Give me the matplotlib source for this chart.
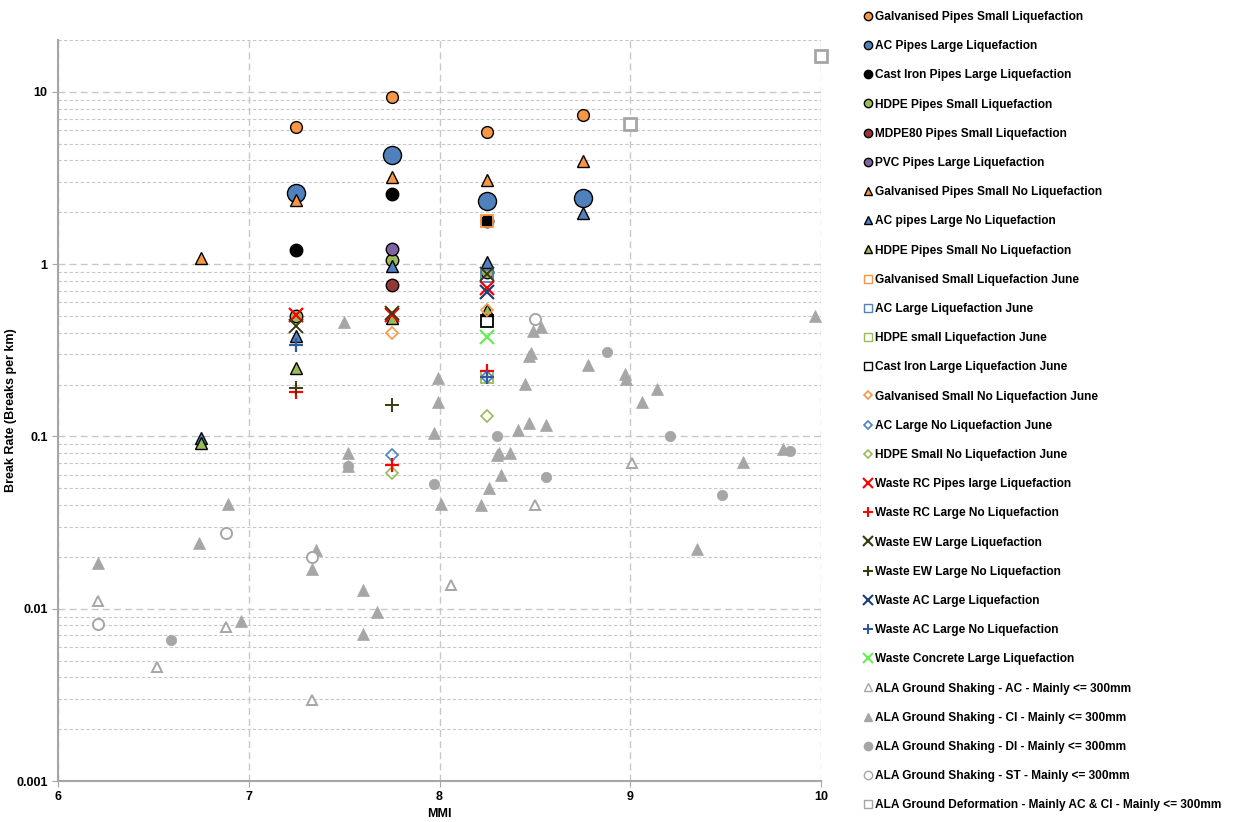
import matplotlib
matplotlib.use("Agg")
import matplotlib.pyplot as plt
from matplotlib.ticker import FixedLocator, FixedFormatter, NullFormatter

plt.rcParams['font.family'] = ['Liberation Sans', 'DejaVu Sans']
plt.rcParams['font.weight'] = 'bold'

# ---------------- data ----------------
galv_small_liq_x = [7.25, 7.75, 8.25, 8.75]
galv_small_liq_y = [6.27, 9.35, 5.86, 7.35]

ac_large_liq_x = [7.25, 7.75, 8.25, 8.75]
ac_large_liq_y = [2.59, 4.31, 2.33, 2.43]

ci_large_liq_x = [7.25, 7.75, 8.25]
ci_large_liq_y = [1.21, 2.56, 1.78]

hdpe_small_liq_x = [7.25, 7.75, 8.25]
hdpe_small_liq_y = [0.50, 1.06, 0.90]

mdpe_small_liq_x = [7.75]
mdpe_small_liq_y = [0.757]

pvc_large_liq_x = [7.75]
pvc_large_liq_y = [1.23]

galv_small_noliq_x = [6.75, 7.25, 7.75, 8.25, 8.75]
galv_small_noliq_y = [1.09, 2.36, 3.21, 3.06, 3.98]

ac_large_noliq_x = [6.75, 7.25, 7.75, 8.25, 8.75]
ac_large_noliq_y = [0.098, 0.383, 0.98, 1.03, 1.99]

hdpe_small_noliq_x = [6.75, 7.25, 7.75, 8.25]
hdpe_small_noliq_y = [0.0916, 0.25, 0.49, 0.54]

galv_liq_june_x = [8.25]
galv_liq_june_y = [1.78]

ac_liq_june_x = [8.25]
ac_liq_june_y = [0.85]

hdpe_liq_june_x = [8.25]
hdpe_liq_june_y = [0.22]

ci_liq_june_x = [8.25]
ci_liq_june_y = [0.469]

galv_noliq_june_x = [7.75, 8.25]
galv_noliq_june_y = [0.40, 0.54]

ac_noliq_june_x = [7.75, 8.25]
ac_noliq_june_y = [0.078, 0.22]

hdpe_noliq_june_x = [7.75, 8.25]
hdpe_noliq_june_y = [0.0614, 0.132]

waste_rc_liq_x = [7.25, 7.75, 8.25]
waste_rc_liq_y = [0.507, 0.51, 0.728]

waste_rc_noliq_x = [7.25, 7.75, 8.25]
waste_rc_noliq_y = [0.181, 0.0684, 0.241]

waste_ew_liq_x = [7.25, 7.75, 8.25]
waste_ew_liq_y = [0.438, 0.52, 0.88]

waste_ew_noliq_x = [7.25, 7.75, 8.25]
waste_ew_noliq_y = [0.191, 0.152, 0.22]

waste_ac_liq_x = [8.25]
waste_ac_liq_y = [0.693]

waste_ac_noliq_x = [7.25, 8.25]
waste_ac_noliq_y = [0.34, 0.22]

waste_conc_liq_x = [8.25]
waste_conc_liq_y = [0.378]

ala_ac_x = [6.21, 6.52, 6.88, 7.33, 8.06, 8.50, 9.01]
ala_ac_y = [0.0111, 0.00459, 0.00784, 0.00295, 0.01375, 0.040, 0.070]

ala_ci_x = [6.21, 6.74, 6.89, 6.96, 7.33, 7.35, 7.50, 7.52, 7.52, 7.60, 7.60,
            7.67, 7.97, 7.99, 7.99, 8.01, 8.22, 8.26, 8.30, 8.31, 8.32, 8.37,
            8.41, 8.45, 8.47, 8.48, 8.49, 8.53, 8.47, 8.56, 8.78, 8.97, 8.98,
            9.06, 9.14, 9.35, 9.59, 9.80, 9.97]
ala_ci_y = [0.0185, 0.0241, 0.0405, 0.0085, 0.017, 0.0219, 0.462, 0.080, 0.067, 0.01285, 0.00713,
            0.0096, 0.1047, 0.219, 0.158, 0.0405, 0.040, 0.0502, 0.078, 0.080, 0.0597, 0.080,
            0.109, 0.2017, 0.293, 0.305, 0.41, 0.432, 0.1197, 0.117, 0.26, 0.2307, 0.215,
            0.158, 0.189, 0.0222, 0.0711, 0.0846, 0.50]

ala_di_x = [6.59, 7.52, 7.97, 8.30, 8.56, 8.88, 9.21, 9.48, 9.84]
ala_di_y = [0.00659, 0.0675, 0.053, 0.100, 0.0582, 0.31, 0.100, 0.0457, 0.0824]

ala_st_x = [6.21, 6.88, 7.33, 8.50]
ala_st_y = [0.00815, 0.0275, 0.020, 0.48]

ala_def_x = [9.0, 10.0]
ala_def_y = [6.52, 16.2]

y_tick_values = [0.001, 0.01, 0.1, 1, 10]
y_tick_labels = ["0.001", "0.01", "0.1", "1", "10"]
x_tick_values = [6, 7, 8, 9, 10]
x_tick_labels = ["6", "7", "8", "9", "10"]

# ---------------- styles ----------------
ORANGE = '#F79646'
BLUE = '#4F81BD'
GREEN = '#9BBB59'
DRED = '#953735'
PURPLE = '#8064A2'
GRAY = '#A6A6A6'

series = [
    ("Galvanised Pipes Small Liquefaction", galv_small_liq_x, galv_small_liq_y,
     dict(marker='o', ms=8.5, mfc=ORANGE, mec='black', mew=1.0)),
    ("AC Pipes Large Liquefaction", ac_large_liq_x, ac_large_liq_y,
     dict(marker='o', ms=13, mfc=BLUE, mec='black', mew=1.0)),
    ("Cast Iron Pipes Large Liquefaction", ci_large_liq_x, ci_large_liq_y,
     dict(marker='o', ms=9, mfc='black', mec='black', mew=1.0)),
    ("HDPE Pipes Small Liquefaction", hdpe_small_liq_x, hdpe_small_liq_y,
     dict(marker='o', ms=9, mfc=GREEN, mec='black', mew=1.0)),
    ("MDPE80 Pipes Small Liquefaction", mdpe_small_liq_x, mdpe_small_liq_y,
     dict(marker='o', ms=9, mfc=DRED, mec='black', mew=1.0)),
    ("PVC Pipes Large Liquefaction", pvc_large_liq_x, pvc_large_liq_y,
     dict(marker='o', ms=9, mfc=PURPLE, mec='black', mew=1.0)),
    ("Galvanised Pipes Small No Liquefaction", galv_small_noliq_x, galv_small_noliq_y,
     dict(marker='^', ms=9, mfc=ORANGE, mec='black', mew=1.0)),
    ("AC pipes Large No Liquefaction", ac_large_noliq_x, ac_large_noliq_y,
     dict(marker='^', ms=9, mfc=BLUE, mec='black', mew=1.0)),
    ("HDPE Pipes Small No Liquefaction", hdpe_small_noliq_x, hdpe_small_noliq_y,
     dict(marker='^', ms=9, mfc=GREEN, mec='black', mew=1.0)),
    ("Galvanised Small Liquefaction June", galv_liq_june_x, galv_liq_june_y,
     dict(marker='s', ms=8, mfc='none', mec=ORANGE, mew=1.3)),
    ("AC Large Liquefaction June", ac_liq_june_x, ac_liq_june_y,
     dict(marker='s', ms=8, mfc='none', mec=BLUE, mew=1.3)),
    ("HDPE small Liquefaction June", hdpe_liq_june_x, hdpe_liq_june_y,
     dict(marker='s', ms=8, mfc='none', mec=GREEN, mew=1.3)),
    ("Cast Iron Large Liquefaction June", ci_liq_june_x, ci_liq_june_y,
     dict(marker='s', ms=8, mfc='none', mec='black', mew=1.3)),
    ("Galvanised Small No Liquefaction June", galv_noliq_june_x, galv_noliq_june_y,
     dict(marker='D', ms=6.5, mfc='none', mec=ORANGE, mew=1.2)),
    ("AC Large No Liquefaction June", ac_noliq_june_x, ac_noliq_june_y,
     dict(marker='D', ms=6.5, mfc='none', mec=BLUE, mew=1.2)),
    ("HDPE Small No Liquefaction June", hdpe_noliq_june_x, hdpe_noliq_june_y,
     dict(marker='D', ms=6.5, mfc='none', mec=GREEN, mew=1.2)),
    ("Waste RC Pipes large Liquefaction", waste_rc_liq_x, waste_rc_liq_y,
     dict(marker='x', ms=10, mec='#FF0000', mew=1.6)),
    ("Waste RC Large No Liquefaction", waste_rc_noliq_x, waste_rc_noliq_y,
     dict(marker='+', ms=10, mec='#FF0000', mew=1.6)),
    ("Waste EW Large Liquefaction", waste_ew_liq_x, waste_ew_liq_y,
     dict(marker='x', ms=10, mec='#3B3B12', mew=1.4)),
    ("Waste EW Large No Liquefaction", waste_ew_noliq_x, waste_ew_noliq_y,
     dict(marker='+', ms=10, mec='#3B3B12', mew=1.4)),
    ("Waste AC Large Liquefaction", waste_ac_liq_x, waste_ac_liq_y,
     dict(marker='x', ms=10, mec='#1F3F78', mew=1.6)),
    ("Waste AC Large No Liquefaction", waste_ac_noliq_x, waste_ac_noliq_y,
     dict(marker='+', ms=10, mec='#2E5A9A', mew=1.6)),
    ("Waste Concrete Large Liquefaction", waste_conc_liq_x, waste_conc_liq_y,
     dict(marker='x', ms=10, mec='#66EE55', mew=1.6)),
    ("ALA Ground Shaking - AC - Mainly <= 300mm", ala_ac_x, ala_ac_y,
     dict(marker='^', ms=7.5, mfc='white', mec=GRAY, mew=1.4)),
    ("ALA Ground Shaking - CI - Mainly <= 300mm", ala_ci_x, ala_ci_y,
     dict(marker='^', ms=8, mfc=GRAY, mec=GRAY, mew=0.5)),
    ("ALA Ground Shaking - DI - Mainly <= 300mm", ala_di_x, ala_di_y,
     dict(marker='o', ms=7.5, mfc=GRAY, mec=GRAY, mew=0.5)),
    ("ALA Ground Shaking - ST - Mainly <= 300mm", ala_st_x, ala_st_y,
     dict(marker='o', ms=8, mfc='white', mec=GRAY, mew=1.4)),
    ("ALA Ground Deformation - Mainly AC & CI - Mainly <= 300mm", ala_def_x, ala_def_y,
     dict(marker='s', ms=9, mfc='white', mec=GRAY, mew=2.0)),
]

# ---------------- figure ----------------
W, H = 1246, 822
fig = plt.figure(figsize=(W / 100, H / 100), dpi=100)
ax = fig.add_axes([58 / W, 41 / H, (821 - 58) / W, (781 - 40) / H])

handles = []
for label, xs, ys, st in series:
    h, = ax.plot(xs, ys, linestyle='none', label=label, zorder=3, clip_on=False, **st)
    handles.append(h)

ax.set_yscale('log')
ax.set_xlim(6, 10)
ax.set_ylim(0.001, 20)

ax.yaxis.set_major_locator(FixedLocator(y_tick_values))
ax.yaxis.set_major_formatter(FixedFormatter(y_tick_labels))
minor = [m * 10.0 ** e for e in range(-3, 2) for m in range(2, 10) if m * 10.0 ** e <= 20]
ax.yaxis.set_minor_locator(FixedLocator(minor))
ax.yaxis.set_minor_formatter(NullFormatter())
ax.xaxis.set_major_locator(FixedLocator(x_tick_values))
ax.xaxis.set_major_formatter(FixedFormatter(x_tick_labels))

ax.grid(True, which='major', axis='y', color='#C8C8C8', linestyle=(0, (5, 3)), linewidth=1.0, zorder=0)
ax.grid(True, which='minor', axis='y', color='#C8C8C8', linestyle=(0, (3, 2)), linewidth=0.8, zorder=0)
ax.grid(True, which='major', axis='x', color='#C8C8C8', linestyle=(0, (5, 3)), linewidth=1.0, zorder=0)
ax.set_axisbelow(True)

for s in ['top', 'right']:
    ax.spines[s].set_visible(False)
for s in ['left', 'bottom']:
    ax.spines[s].set_color('#A6A6A6')
    ax.spines[s].set_linewidth(1.5)

ax.tick_params(axis='both', which='major', length=4, color='#A6A6A6', labelsize=9)
ax.tick_params(axis='both', which='minor', length=0)
for t in ax.get_xticklabels() + ax.get_yticklabels():
    t.set_fontweight('bold')

ax.set_xlabel("MMI", fontsize=9, fontweight='bold')
ax.set_ylabel("Break Rate (Breaks per km)", fontsize=9, fontweight='bold')
ax.xaxis.set_label_coords(0.5, -(808 - 781) / (781 - 40))
ax.yaxis.set_label_coords(-(58 - 17) / (821 - 58), 0.5)

leg = ax.legend(handles=handles, loc='upper left', bbox_to_anchor=(864 / W, 1 - 11 / H),
                bbox_transform=fig.transFigure, frameon=False, fontsize=8.6,
                markerscale=1.0, handlelength=0.7, handletextpad=0.25,
                labelspacing=1.44, borderaxespad=0, borderpad=0)
for t in leg.get_texts():
    t.set_fontweight('bold')
for h in leg.legend_handles:
    m = h.get_marker()
    if m in ('x', '+'):
        h.set_markersize(7)
        h.set_markeredgewidth(1.5)
    elif m == 'D':
        h.set_markersize(4.5)
        h.set_markeredgewidth(1.2)
    else:
        h.set_markersize(6)
        h.set_markeredgewidth(1.0)

fig.savefig("out.png", dpi=100)
